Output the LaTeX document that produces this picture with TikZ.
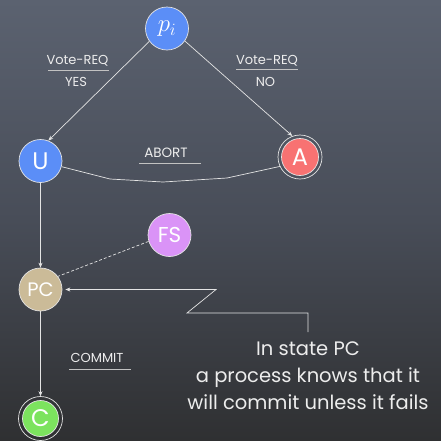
\documentclass[tikz,border=0pt]{standalone}
\usepackage{fontspec}
\setmainfont{Poppins}
\usetikzlibrary{arrows.meta}
\definecolor{bgtop}{HTML}{5B6270}
\definecolor{bgmid}{HTML}{484D58}
\definecolor{bgbot}{HTML}{2F3032}
\definecolor{linecol}{HTML}{E4E4E4}
\definecolor{txtcol}{HTML}{EDEDED}
\definecolor{nblue}{HTML}{5B8EF7}
\definecolor{nred}{HTML}{F87272}
\definecolor{ntan}{HTML}{CBBB98}
\definecolor{ngreen}{HTML}{7CE35E}
\definecolor{nviolet}{HTML}{DA93F7}
\begin{document}
\begin{tikzpicture}[x=1pt,y=-1pt,
  state/.style={circle, draw=linecol, line width=0.7pt, minimum size=43pt, inner sep=0pt,
    text=white, font=\fontsize{24}{24}\selectfont},
  ring/.style={circle, draw=linecol, line width=0.7pt, minimum size=44pt, inner sep=0pt},
  conn/.style={draw=linecol, line width=0.7pt},
  arr/.style={conn, -{Stealth[length=5pt,width=4pt]}},
  lbl/.style={text=txtcol, font=\fontsize{13}{13}\selectfont, inner sep=1pt},
  uline/.style={draw=linecol!85!black, line width=0.8pt}]
\shade[top color=bgtop, bottom color=bgbot, middle color=bgmid] (0,0) rectangle (441,440);
\useasboundingbox (0,0) rectangle (441,440);
% nodes
\node[state, fill=nblue, font=\fontsize{26}{26}\selectfont] (pi) at (167,28.5) {$p_i$};
\node[state, fill=nblue] (U) at (40.5,161) {U};
\node[state, fill=nred, minimum size=37pt] (A) at (300,157) {A};
\node[ring] (Ar) at (A) {};
\node[state, fill=nviolet, font=\fontsize{21.5}{21.5}\selectfont] (FS) at (169.5,235) {FS};
\node[state, fill=ntan, font=\fontsize{19.5}{19.5}\selectfont] (PC) at (40.5,289.5) {PC};
\node[state, fill=ngreen, minimum size=36pt] (C) at (40.5,418.5) {C};
\node[ring] (Cr) at (C) {};
% connectors
\draw[arr] (pi.216) -- (U.69);
\draw[arr] (pi.-35) -- (Ar.110);
\coordinate (b1) at (110,179);
\coordinate (b2) at (163,182);
\coordinate (b3) at (227,178);
\draw[conn] (U.-15) -- (b1) -- (b2) -- (b3) -- (Ar.205);
\draw[arr] (U.south) -- (PC.north);
\draw[conn, dashed, dash pattern=on 3pt off 2pt] (FS.197) -- (PC.37);
\draw[arr] (PC.south) -- (Cr.north);
\coordinate (k0) at (308,332);
\coordinate (k1) at (308,313);
\coordinate (k2) at (187,313);
\coordinate (k3) at (216,289.5);
\draw[arr] (k0) -- (k1) -- (k2) -- (k3) -- ([xshift=3pt]PC.east);
% labels
\node[lbl] (v1) at (77.5,61) {Vote-REQ};
\draw[uline] (48,70.5) -- (109,70.5);
\node[lbl] (y1) at (76,82) {YES};
\node[lbl] (v2) at (267,61) {Vote-REQ};
\draw[uline] (236,69.5) -- (298,69.5);
\node[lbl] (n2) at (265.5,82) {NO};
\node[lbl, font=\fontsize{13.5}{13.5}\selectfont] (ab) at (166,153) {ABORT};
\draw[uline] (139,163) -- (201,163);
\node[lbl, font=\fontsize{13}{13}\selectfont] (cm) at (97,358) {COMMIT};
\draw[uline] (69,369) -- (131,369);
\node[lbl, align=center, font=\fontsize{19.5}{27}\selectfont] (note) at (308,376)
  {In state PC\\a process knows that it\\will commit unless it fails};
\end{tikzpicture}
\end{document}
